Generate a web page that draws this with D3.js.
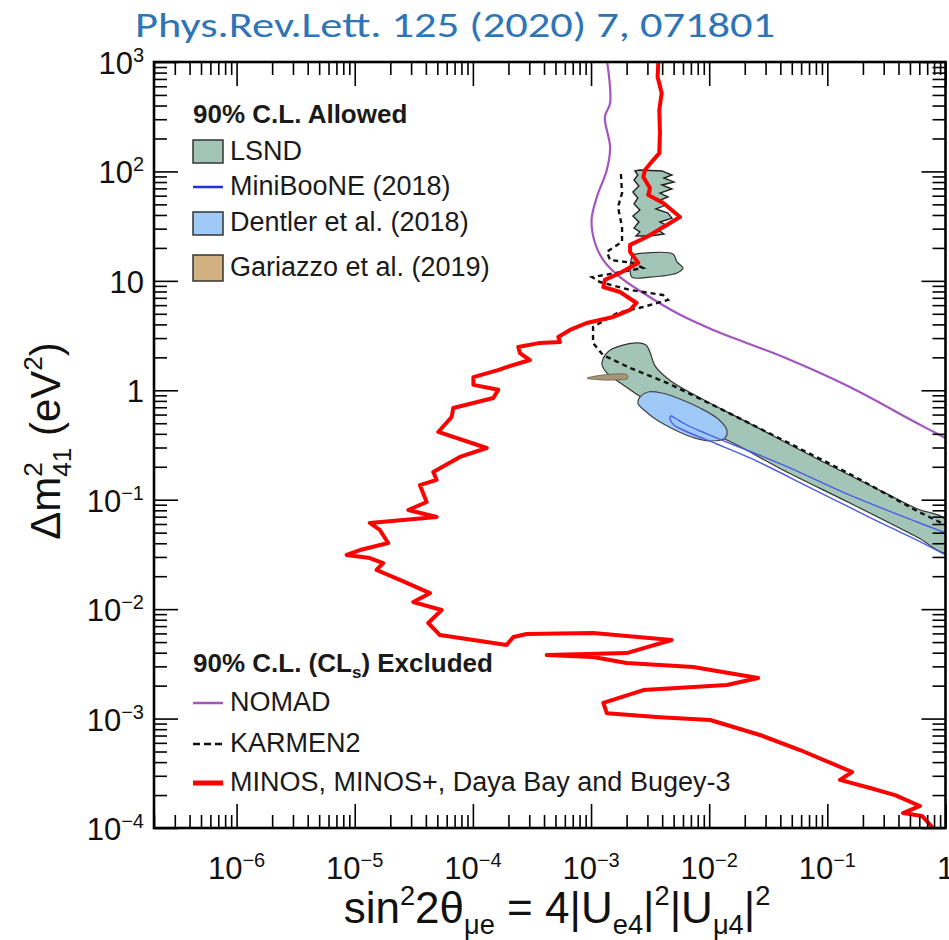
<!DOCTYPE html>
<html>
<head>
<meta charset="utf-8">
<script src="https://cdn.jsdelivr.net/npm/d3@7"></script>
<style>
  html, body { margin: 0; padding: 0; background: #fff; }
  svg { display: block; }
</style>
</head>
<body>
<svg id="chart" width="949" height="940"></svg>
<script>
// ---------- data: [sin^2 2θ_μe, Δm²_41 (eV²)] ----------

// MINOS, MINOS+, Daya Bay and Bugey-3 combined 90% CLs exclusion contour
const minosCurve = [
  [3.71e-3, 1000], [3.66e-3, 730], [3.96e-3, 521], [3.78e-3, 364], [3.83e-3, 224],
  [3.78e-3, 147], [3.36e-3, 127], [2.86e-3, 103], [2.77e-3, 88.9], [3.15e-3, 70.6],
  [3.05e-3, 60.9], [4.09e-3, 51.4], [5.66e-3, 38.3], [4.66e-3, 33.8], [2.96e-3, 25.2],
  [2.14e-3, 21.3], [2.14e-3, 18.4], [2.51e-3, 14.6], [1.76e-3, 11.8], [1.31e-3, 10.2],
  [1.27e-3, 8.79], [1.76e-3, 7.91], [2.43e-3, 6.28], [2.14e-3, 5.42], [1.54e-3, 4.68],
  [9.18e-4, 4.12], [6.63e-4, 3.56], [5.28e-4, 3.07], [5.46e-4, 2.76], [3.69e-4, 2.71],
  [2.42e-4, 2.49], [2.50e-4, 2.19], [3.04e-4, 1.89], [1.93e-4, 1.63], [1.63e-4, 1.53],
  [1.01e-4, 1.32], [1.01e-4, 1.12], [1.64e-4, 1.01], [1.49e-4, 0.85], [6.82e-5, 0.689],
  [6.61e-5, 0.570], [5.09e-5, 0.416], [1.31e-4, 0.297], [7.77e-5, 0.246], [4.62e-5, 0.179],
  [4.93e-5, 0.152], [3.56e-5, 0.136], [4.06e-5, 0.0953], [2.84e-5, 0.0805], [4.93e-5, 0.0695],
  [1.34e-5, 0.0613], [1.63e-5, 0.0529], [1.92e-5, 0.0402], [1.11e-5, 0.0347], [8.54e-6, 0.0313],
  [1.34e-5, 0.0293], [1.74e-5, 0.0264], [1.53e-5, 0.0228], [2.41e-5, 0.0185], [4.33e-5, 0.0140],
  [3.13e-5, 0.0116], [5.44e-5, 0.00982], [4.19e-5, 0.00747], [5.26e-5, 0.00580], [1.93e-4, 0.00471],
  [2.20e-4, 0.00557], [2.85e-4, 0.00593], [1.04e-3, 0.00605], [4.81e-3, 0.00522], [2.00e-3, 0.00397],
  [4.21e-4, 0.00381], [1.04e-3, 0.00365], [2.00e-3, 0.00322], [7.33e-3, 0.00296], [0.0260, 0.00235],
  [0.0141, 0.00203], [2.77e-3, 0.00182], [1.27e-3, 0.00139], [1.36e-3, 0.00112], [3.83e-3, 0.00103],
  [0.0102, 9.70e-4], [0.0269, 7.08e-4], [0.0587, 5.16e-4], [0.162, 3.25e-4], [0.128, 2.75e-4],
  [0.230, 2.32e-4], [0.374, 2.00e-4], [0.608, 1.59e-4], [0.437, 1.37e-4], [0.633, 1.29e-4],
  [0.784, 1.0e-4]
];

// NOMAD exclusion
const nomadCurve = [
  [1.37e-3, 1000], [1.45e-3, 422], [1.31e-3, 314], [1.45e-3, 167], [1.36e-3, 103],
  [1.12e-3, 58.4], [1.01e-3, 36.0], [1.08e-3, 22.2], [1.27e-3, 15.5], [1.76e-3, 10.8],
  [2.77e-3, 7.74], [5.31e-3, 5.08], [0.0108, 3.56], [0.0424, 2.01], [0.155, 1.07],
  [0.571, 0.502], [1.0, 0.366]
];

// KARMEN2 exclusion
const karmenCurve = [
  [1.79e-3, 94.7], [1.83e-3, 63.5], [1.69e-3, 47.3], [1.83e-3, 31.1], [1.83e-3, 22.7],
  [1.36e-3, 18.4], [1.45e-3, 15.5], [2.26e-3, 14.6], [2.75e-3, 13.1], [1.02e-3, 10.8],
  [1.19e-3, 9.76], [2.14e-3, 8.25], [4.06e-3, 7.43], [4.48e-3, 6.69], [2.75e-3, 5.77],
  [1.66e-3, 5.08], [1.04e-3, 3.79], [1.04e-3, 2.71], [1.26e-3, 2.10], [2.14e-3, 1.60],
  [4.39e-3, 1.17], [0.0116, 0.704], [0.0421, 0.351], [0.155, 0.172], [0.574, 0.0789],
  [1.0, 0.0588]
];

// LSND allowed regions
const lsndBand = [
  [1.24e-3, 1.81], [1.31e-3, 2.10], [1.50e-3, 2.38], [1.86e-3, 2.59], [2.49e-3, 2.71],
  [2.92e-3, 2.59], [3.15e-3, 2.24], [3.48e-3, 1.67], [4.66e-3, 1.23], [8.35e-3, 0.856],
  [0.0221, 0.496], [0.0817, 0.237], [0.296, 0.118], [0.574, 0.0828], [1.0, 0.0653],
  [1.0, 0.033], [0.574, 0.0456], [0.155, 0.0933], [0.0421, 0.187], [0.0141, 0.351],
  [6.00e-3, 0.496], [3.15e-3, 0.765], [1.76e-3, 1.17], [1.36e-3, 1.44], [1.24e-3, 1.70]
];
const lsndIsland = [
  [2.26e-3, 17.2], [2.97e-3, 18.0], [4.94e-3, 17.6], [5.34e-3, 14.9], [6.00e-3, 13.1],
  [5.34e-3, 11.8], [3.15e-3, 10.8], [2.22e-3, 10.8], [2.14e-3, 12.6], [2.18e-3, 15.5]
];
const lsndHigh = [
  [2.59e-3, 103], [3.98e-3, 101], [4.84e-3, 92.8], [4.14e-3, 87.1], [5.03e-3, 80.1],
  [3.98e-3, 75.2], [4.84e-3, 69.1], [3.83e-3, 63.5], [4.48e-3, 58.4], [3.68e-3, 53.7],
  [4.31e-3, 49.3], [3.54e-3, 45.4], [4.48e-3, 41.7], [4.84e-3, 37.5], [3.83e-3, 34.5],
  [4.48e-3, 31.7], [3.68e-3, 29.2], [4.14e-3, 26.8], [3.15e-3, 25.7],
  [2.40e-3, 25.7], [2.59e-3, 28.0], [2.31e-3, 30.4], [2.54e-3, 34.5], [2.26e-3, 39.1],
  [2.59e-3, 44.4], [2.31e-3, 50.4], [2.49e-3, 57.2], [2.26e-3, 64.9], [2.54e-3, 73.6],
  [2.31e-3, 83.5], [2.49e-3, 92.8], [2.35e-3, 101]
];

// Dentler et al. (2018) global-fit allowed region
const dentlerRegion = [
  [2.59e-3, 0.868], [3.03e-3, 0.965], [3.98e-3, 0.944], [5.66e-3, 0.833], [8.35e-3, 0.689],
  [0.0119, 0.547], [0.0141, 0.434], [0.0136, 0.366], [0.0106, 0.344], [7.58e-3, 0.366],
  [5.13e-3, 0.434], [3.61e-3, 0.535], [2.81e-3, 0.660], [2.49e-3, 0.765]
];

// MiniBooNE (2018) allowed contour
const minibooneContour = [
  [1.0, 0.0497], [0.574, 0.0626], [0.155, 0.110], [0.0421, 0.208], [0.0116, 0.366],
  [8.35e-3, 0.425], [6.24e-3, 0.492], [5.13e-3, 0.558], [4.75e-3, 0.582], [4.66e-3, 0.546],
  [5.03e-3, 0.482], [6.88e-3, 0.407], [0.0116, 0.323], [0.0221, 0.241], [0.0817, 0.120],
  [0.296, 0.0600], [0.574, 0.0428], [1.0, 0.0313]
];

// Gariazzo et al. (2019) allowed region
const gariazzoRegion = [
  [9.24e-4, 1.29], [1.19e-3, 1.37], [1.59e-3, 1.41], [2.01e-3, 1.39], [2.05e-3, 1.29],
  [1.50e-3, 1.24], [1.14e-3, 1.25]
];

// tick label exponents
const xTickExponents = [-6, -5, -4, -3, -2, -1, 0];
const yTickExponents = [-4, -3, -2, -1, 0, 1, 2, 3];

// legend entries
const allowedLegend = ["LSND", "MiniBooNE (2018)", "Dentler et al. (2018)", "Gariazzo et al. (2019)"];
const excludedLegend = ["NOMAD", "KARMEN2", "MINOS, MINOS+, Daya Bay and Bugey-3"];

// ---------- drawing ----------
const FONT = "'Liberation Sans', Arial, Helvetica, sans-serif";
const svg = d3.select("#chart");

const plot = { left: 154, right: 945.5, top: 62, bottom: 828 };
const x = d3.scaleLog().domain([2e-7, 1]).range([plot.left, plot.right]);
const y = d3.scaleLog().domain([1e-4, 1e3]).range([plot.bottom, plot.top]);

svg.append("defs").append("clipPath").attr("id", "plotClip")
  .append("rect")
  .attr("x", plot.left).attr("y", plot.top)
  .attr("width", plot.right - plot.left).attr("height", plot.bottom - plot.top);

const layer = svg.append("g").attr("clip-path", "url(#plotClip)");

const lineGen = d3.line().x(d => x(d[0])).y(d => y(d[1]));
const polyClosed = d3.line().x(d => x(d[0])).y(d => y(d[1])).curve(d3.curveLinearClosed);
const smoothLine = d3.line().x(d => x(d[0])).y(d => y(d[1])).curve(d3.curveCatmullRom.alpha(0.5));
const smoothClosed = d3.line().x(d => x(d[0])).y(d => y(d[1])).curve(d3.curveCatmullRomClosed.alpha(0.5));

const LSND_FILL = "#a3c5b7";
const DENTLER_FILL = "#9fcaf7";
const GARIAZZO_FILL = "#d2b07f";

// LSND regions (high-Δm² part has ragged edges)
layer.append("path").attr("d", polyClosed(lsndHigh))
  .attr("fill", LSND_FILL).attr("stroke", "#222").attr("stroke-width", 1.4);
layer.append("path").attr("d", smoothClosed(lsndIsland))
  .attr("fill", LSND_FILL).attr("stroke", "#333").attr("stroke-width", 1.2);
layer.append("path").attr("d", smoothClosed(lsndBand))
  .attr("fill", LSND_FILL).attr("stroke", "#333").attr("stroke-width", 1.2);

// Dentler et al.
layer.append("path").attr("d", smoothClosed(dentlerRegion))
  .attr("fill", DENTLER_FILL).attr("stroke", "#444").attr("stroke-width", 1.2);

// MiniBooNE
layer.append("path").attr("d", smoothLine(minibooneContour))
  .attr("fill", "none").attr("stroke", "#4a5ee6").attr("stroke-width", 1.4);

// Gariazzo et al.
layer.append("path").attr("d", smoothClosed(gariazzoRegion))
  .attr("fill", "#a8947a").attr("stroke", "#6b5e4c").attr("stroke-width", 0.8);

// NOMAD
layer.append("path").attr("d", smoothLine(nomadCurve))
  .attr("fill", "none").attr("stroke", "#a455bd").attr("stroke-width", 2.2);

// KARMEN2
layer.append("path").attr("d", lineGen(karmenCurve))
  .attr("fill", "none").attr("stroke", "#111").attr("stroke-width", 2.4)
  .attr("stroke-dasharray", "5,4");

// MINOS + MINOS+ + Daya Bay + Bugey-3
layer.append("path").attr("d", lineGen(minosCurve))
  .attr("fill", "none").attr("stroke", "#ff0000").attr("stroke-width", 4)
  .attr("stroke-linejoin", "round").attr("stroke-linecap", "round");

// ---------- axes: inward ticks on all four sides ----------
const isDecade = v => Math.abs(Math.log10(v) - Math.round(Math.log10(v))) < 1e-9;
const xAll = x.ticks(40), yAll = y.ticks(40);
const xMajor = xAll.filter(isDecade), xMinor = xAll.filter(v => !isDecade(v));
const yMajor = yAll.filter(isDecade), yMinor = yAll.filter(v => !isDecade(v));

function tickGroup(axis, vals, size, transform) {
  svg.append("g").attr("transform", transform)
    .call(axis.tickValues(vals).tickSize(size).tickFormat(""))
    .call(g => g.select(".domain").remove())
    .call(g => g.selectAll(".tick line").attr("stroke", "#000").attr("stroke-width", 1.6));
}
const MAJ = 24, MIN = 13;
tickGroup(d3.axisBottom(x), xMajor, MAJ, `translate(0,${plot.top})`);
tickGroup(d3.axisBottom(x), xMinor, MIN, `translate(0,${plot.top})`);
tickGroup(d3.axisTop(x), xMajor, MAJ, `translate(0,${plot.bottom})`);
tickGroup(d3.axisTop(x), xMinor, MIN, `translate(0,${plot.bottom})`);
tickGroup(d3.axisRight(y), yMajor, MAJ, `translate(${plot.left},0)`);
tickGroup(d3.axisRight(y), yMinor, MIN, `translate(${plot.left},0)`);
tickGroup(d3.axisLeft(y), yMajor, MAJ, `translate(${plot.right},0)`);
tickGroup(d3.axisLeft(y), yMinor, MIN, `translate(${plot.right},0)`);

svg.append("rect")
  .attr("x", plot.left).attr("y", plot.top)
  .attr("width", plot.right - plot.left).attr("height", plot.bottom - plot.top)
  .attr("fill", "none").attr("stroke", "#000").attr("stroke-width", 2.6);

// power-of-ten tick labels
function powerLabel(t, e) {
  if (e === 0) { t.text("1"); return; }
  t.append("tspan").text("10");
  if (e !== 1) {
    t.append("tspan").attr("font-size", 20).attr("dy", -12)
      .text(String(e).replace("-", "\u2212"));
  }
}
const labelG = svg.append("g").attr("font-family", FONT).attr("font-size", 31).attr("fill", "#111");
yTickExponents.forEach(e => {
  const t = labelG.append("text").attr("x", 144).attr("y", y(Math.pow(10, e)) + 12)
    .attr("text-anchor", "end");
  powerLabel(t, e);
});
xTickExponents.forEach(e => {
  const t = labelG.append("text").attr("x", x(Math.pow(10, e))).attr("y", 879)
    .attr("text-anchor", "middle");
  powerLabel(t, e);
});

// text with super/subscripts: parts = [string, mode(1 sup, -1 sub, 0 normal), dx]
function rich(textSel, parts, base) {
  let cur = 0;
  parts.forEach(([s, mode, dx]) => {
    const off = mode === 1 ? -0.42 * base : mode === -1 ? 0.26 * base : 0;
    const ts = textSel.append("tspan").text(s).attr("dy", off - cur);
    if (mode) ts.attr("font-size", 0.62 * base);
    if (dx) ts.attr("dx", dx);
    cur = off;
  });
}

// axis titles
const xTitle = svg.append("text").attr("x", 557).attr("y", 923)
  .attr("text-anchor", "middle").attr("font-family", FONT).attr("font-size", 44).attr("fill", "#111");
rich(xTitle, [
  ["sin", 0], ["2", 1], ["2\u03b8", 0], ["\u03bce", -1], [" = 4|U", 0], ["e4", -1],
  ["|", 0], ["2", 1], ["|U", 0], ["\u03bc4", -1], ["|", 0], ["2", 1]
], 44);

const yTitle = svg.append("text").attr("transform", "translate(60,441) rotate(-90)")
  .attr("text-anchor", "middle").attr("font-family", FONT).attr("font-size", 42).attr("fill", "#111");
rich(yTitle, [
  ["\u0394m", 0], ["2", 1], ["41", -1, -0.62 * 0.556 * 42], [" (eV", 0], ["2", 1], [")", 0]
], 42);

// header
svg.append("text").attr("x", 135).attr("y", 37)
  .attr("font-family", "Carlito, 'Open Sans', sans-serif").attr("font-size", 35)
  .attr("fill", "#2e75b6").attr("textLength", 640).attr("lengthAdjust", "spacingAndGlyphs")
  .text("Phys.Rev.Lett. 125 (2020) 7, 071801");

// ---------- legends ----------
const leg = svg.append("g").attr("font-family", FONT).attr("fill", "#1a1a1a");
const LX = 193, TX = 230, LSIZE = 27, HSIZE = 26;

leg.append("text").attr("x", LX).attr("y", 123).attr("font-size", HSIZE).attr("font-weight", "bold")
  .text("90% C.L. Allowed");
// LSND swatch
leg.append("rect").attr("x", LX).attr("y", 140).attr("width", 30).attr("height", 23)
  .attr("fill", LSND_FILL).attr("stroke", "#333").attr("stroke-width", 1.5);
leg.append("text").attr("x", TX).attr("y", 160).attr("font-size", LSIZE).text(allowedLegend[0]);
// MiniBooNE line
leg.append("line").attr("x1", LX).attr("x2", LX + 30).attr("y1", 187).attr("y2", 187)
  .attr("stroke", "#1f30d8").attr("stroke-width", 2.5);
leg.append("text").attr("x", TX).attr("y", 195).attr("font-size", LSIZE).text(allowedLegend[1]);
// Dentler swatch
leg.append("rect").attr("x", LX).attr("y", 212).attr("width", 30).attr("height", 23)
  .attr("fill", DENTLER_FILL).attr("stroke", "#333").attr("stroke-width", 1.5);
leg.append("text").attr("x", TX).attr("y", 231).attr("font-size", LSIZE).text(allowedLegend[2]);
// Gariazzo swatch
leg.append("rect").attr("x", LX).attr("y", 255).attr("width", 30).attr("height", 26)
  .attr("fill", GARIAZZO_FILL).attr("stroke", "#333").attr("stroke-width", 1.5);
leg.append("text").attr("x", TX).attr("y", 276).attr("font-size", LSIZE).text(allowedLegend[3]);

const exHead = leg.append("text").attr("x", LX).attr("y", 672).attr("font-size", HSIZE).attr("font-weight", "bold");
exHead.append("tspan").text("90% C.L. (CL");
exHead.append("tspan").attr("font-size", 17).attr("dy", 6).text("s");
exHead.append("tspan").attr("dy", -6).text(") Excluded");

leg.append("line").attr("x1", LX).attr("x2", LX + 30).attr("y1", 703).attr("y2", 703)
  .attr("stroke", "#a455bd").attr("stroke-width", 2.5);
leg.append("text").attr("x", TX).attr("y", 711).attr("font-size", LSIZE).text(excludedLegend[0]);

leg.append("line").attr("x1", LX).attr("x2", LX + 30).attr("y1", 744).attr("y2", 744)
  .attr("stroke", "#111").attr("stroke-width", 2.4).attr("stroke-dasharray", "7,4");
leg.append("text").attr("x", TX).attr("y", 752).attr("font-size", LSIZE).text(excludedLegend[1]);

leg.append("line").attr("x1", LX).attr("x2", LX + 30).attr("y1", 783).attr("y2", 783)
  .attr("stroke", "#ff0000").attr("stroke-width", 5);
leg.append("text").attr("x", TX).attr("y", 791).attr("font-size", LSIZE).text(excludedLegend[2]);
</script>
</body>
</html>
